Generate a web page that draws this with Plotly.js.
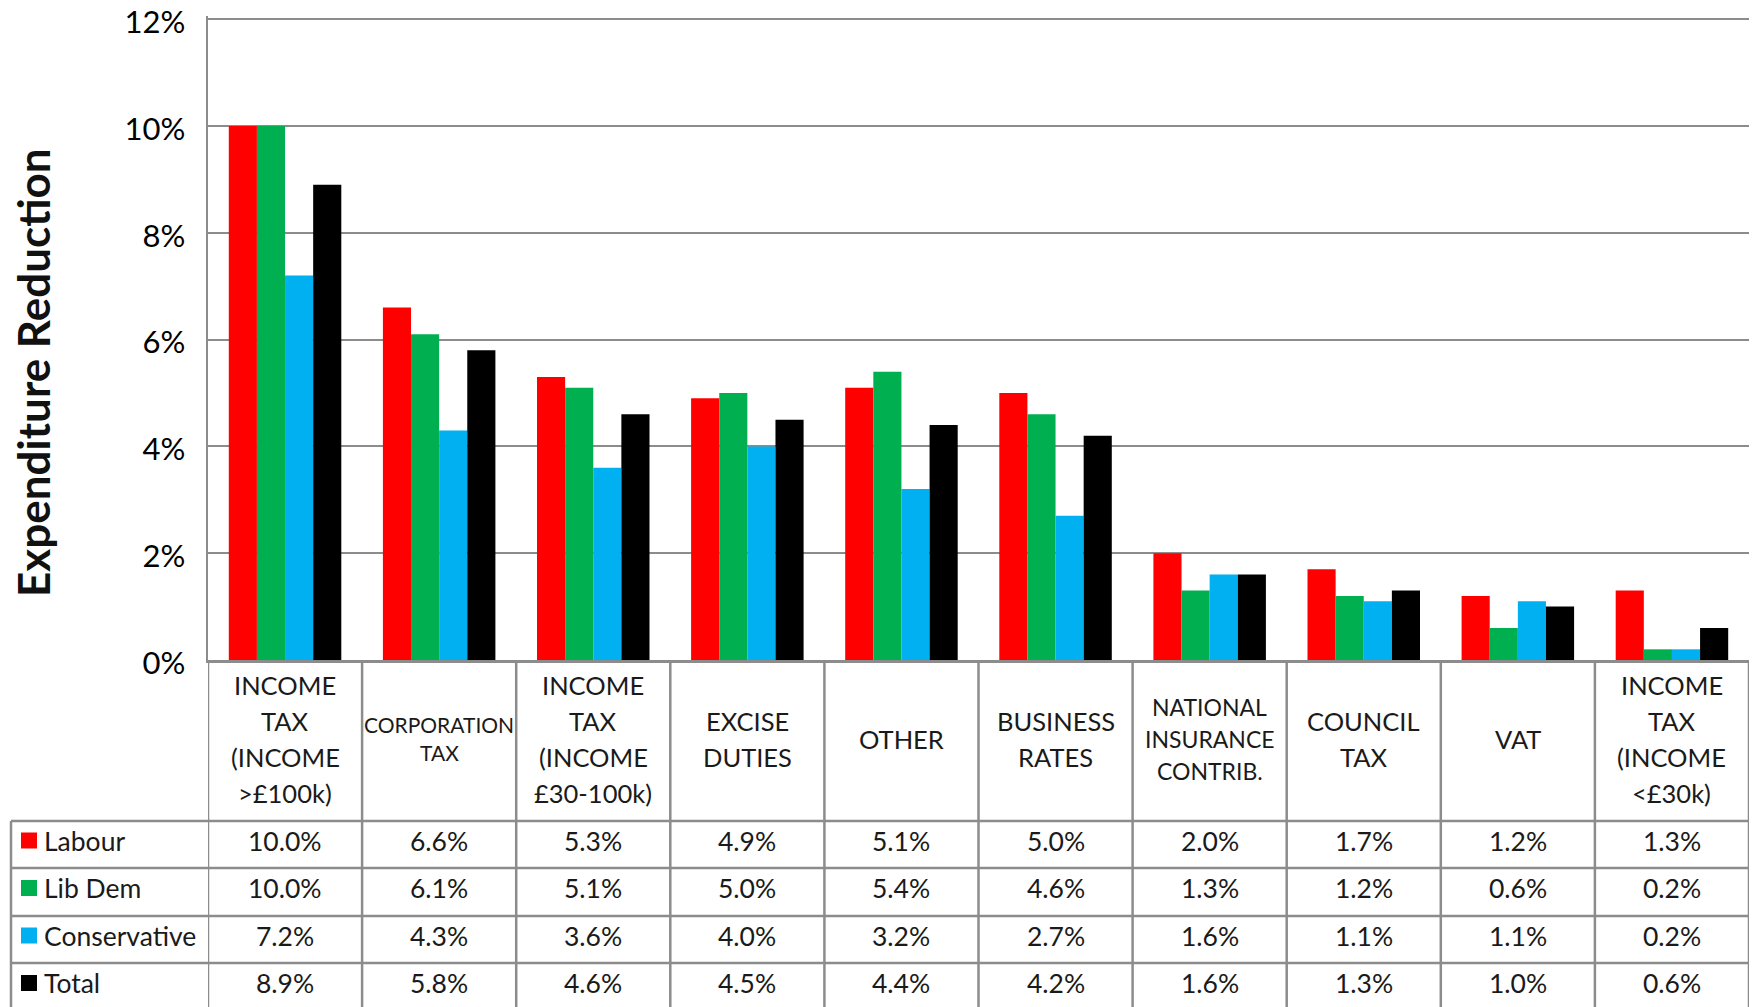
<!DOCTYPE html>
<html>
<head>
<meta charset="utf-8">
<script src="https://cdn.plot.ly/plotly-3.0.1.min.js"></script>
<style>
  html, body { margin: 0; padding: 0; background: #ffffff; }
  #chart { width: 1752px; height: 1007px; }
</style>
</head>
<body>
<div id="chart"></div>
<script>
// ---------- DATA ----------
const categoryLines = [
  ["INCOME", "TAX", "(INCOME", ">£100k)"],
  ["CORPORATION", "TAX"],
  ["INCOME", "TAX", "(INCOME", "£30-100k)"],
  ["EXCISE", "DUTIES"],
  ["OTHER"],
  ["BUSINESS", "RATES"],
  ["NATIONAL", "INSURANCE", "CONTRIB."],
  ["COUNCIL", "TAX"],
  ["VAT"],
  ["INCOME", "TAX", "(INCOME", "<£30k)"]
];
const seriesNames = ["Labour", "Lib Dem", "Conservative", "Total"];
const labour       = [10.0, 6.6, 5.3, 4.9, 5.1, 5.0, 2.0, 1.7, 1.2, 1.3];
const libDem       = [10.0, 6.1, 5.1, 5.0, 5.4, 4.6, 1.3, 1.2, 0.6, 0.2];
const conservative = [7.2, 4.3, 3.6, 4.0, 3.2, 2.7, 1.6, 1.1, 1.1, 0.2];
const total        = [8.9, 5.8, 4.6, 4.5, 4.4, 4.2, 1.6, 1.3, 1.0, 0.6];
const yTickVals = [0, 2, 4, 6, 8, 10, 12];
const yTickText = ["0%", "2%", "4%", "6%", "8%", "10%", "12%"];
const yAxisTitle = "Expenditure Reduction";

// ---------- STYLE / LAYOUT CONSTANTS ----------
const W = 1752, H = 1007;
const yMax = 12.06;
const plotLeft = 208, plotRight = 1749, plotTop = 16, plotBottom = 660;
const plotW = plotRight - plotLeft, plotH = plotBottom - plotTop;
const colors = ["#FF0000", "#00B050", "#00B0F0", "#000000"];
const gridColor = "#8c8c8c";
const FONT = "Lato, 'Open Sans', sans-serif";
const textColor = "#1a1a1a";

// pixel -> paper helpers
const pyP = p => (plotBottom - p) / plotH;
const pxP = p => (p - plotLeft) / plotW;

// table geometry (pixels)
const headerBottom = 821;
const rowEdges = [821, 868, 916, 963, 1011];
const tableLeft = 11;

const catLabels = categoryLines.map(l => l.join(" "));
const allSeries = [labour, libDem, conservative, total];

const traces = allSeries.map((vals, i) => ({
  type: "bar",
  name: seriesNames[i],
  x: catLabels,
  y: vals,
  marker: { color: colors[i], line: { width: 0 } },
  hoverinfo: "name+y"
}));

const shapes = [];
const annotations = [];
const lineStyle = { color: gridColor, width: 2.5 };

// horizontal table lines
rowEdges.forEach(e => {
  shapes.push({ type: "line", xref: "paper", yref: "paper",
    x0: pxP(tableLeft), x1: 1, y0: pyP(e), y1: pyP(e), line: lineStyle, layer: "above" });
});
// left border of label column
shapes.push({ type: "line", xref: "paper", yref: "paper",
  x0: pxP(tableLeft), x1: pxP(tableLeft), y0: pyP(headerBottom), y1: pyP(rowEdges[rowEdges.length - 1]),
  line: lineStyle });
// vertical column separators at category boundaries
for (let i = 0; i <= catLabels.length; i++) {
  shapes.push({ type: "line", xref: "x", yref: "paper",
    x0: i - 0.5, x1: i - 0.5, y0: 0, y1: pyP(rowEdges[rowEdges.length - 1]),
    line: lineStyle });
}

// header text (category names), one annotation per line
const headerCenter = (plotBottom + headerBottom) / 2 - 2;
categoryLines.forEach((lines, i) => {
  let size = 25.5, spacing = 36;
  if (lines[0] === "CORPORATION") { size = 21; spacing = 28; }
  if (lines[0] === "NATIONAL") { size = 23; spacing = 32; }
  const n = lines.length;
  lines.forEach((t, k) => {
    const cy = headerCenter + (k - (n - 1) / 2) * spacing;
    annotations.push({
      xref: "x", yref: "paper", x: i, y: pyP(cy),
      text: t, showarrow: false, xanchor: "center", yanchor: "middle",
      font: { family: FONT, size: size, color: textColor }
    });
  });
});

// data rows
allSeries.forEach((vals, r) => {
  const cy = (rowEdges[r] + rowEdges[r + 1]) / 2 - 4;
  // series label + colour key
  annotations.push({
    xref: "paper", yref: "paper", x: pxP(42), y: pyP(cy),
    text: seriesNames[r], showarrow: false, xanchor: "left", yanchor: "middle",
    font: { family: FONT, size: 26.5, color: textColor }
  });
  shapes.push({ type: "rect", xref: "paper", yref: "paper",
    x0: pxP(21), x1: pxP(37), y0: pyP(cy - 8), y1: pyP(cy + 8),
    fillcolor: colors[r], line: { width: 0 } });
  vals.forEach((v, i) => {
    annotations.push({
      xref: "x", yref: "paper", x: i, y: pyP(cy),
      text: v.toFixed(1) + "%", showarrow: false, xanchor: "center", yanchor: "middle",
      font: { family: FONT, size: 26.5, color: textColor }
    });
  });
});

// y-axis title
annotations.push({
  xref: "paper", yref: "paper", x: pxP(33), y: pyP(373),
  text: "<b>" + yAxisTitle + "</b>", textangle: -90, showarrow: false,
  xanchor: "center", yanchor: "middle",
  font: { family: FONT, size: 44, color: "#111111" }
});

const layout = {
  width: W, height: H,
  margin: { l: plotLeft, r: W - plotRight, t: plotTop, b: H - plotBottom, pad: 0 },
  paper_bgcolor: "#ffffff", plot_bgcolor: "#ffffff",
  barmode: "group", bargap: 0.27, bargroupgap: 0,
  showlegend: false,
  xaxis: {
    type: "category", range: [-0.5, catLabels.length - 0.5],
    showticklabels: false, ticks: "", showgrid: false, zeroline: false,
    showline: true, linecolor: gridColor, linewidth: 2.5, fixedrange: true
  },
  yaxis: {
    range: [0, yMax], tickmode: "array", tickvals: yTickVals, ticktext: yTickText,
    showgrid: true, gridcolor: gridColor, gridwidth: 2,
    zeroline: false, showline: true, linecolor: gridColor, linewidth: 2.5,
    ticks: "", ticklabelstandoff: 14, ticklabelshift: 3, ticklabeloverflow: "allow",
    tickfont: { family: FONT, size: 31, color: "#000000" },
    fixedrange: true
  },
  shapes: shapes,
  annotations: annotations
};

Plotly.newPlot("chart", traces, layout, { displayModeBar: false, staticPlot: true });
</script>
</body>
</html>
